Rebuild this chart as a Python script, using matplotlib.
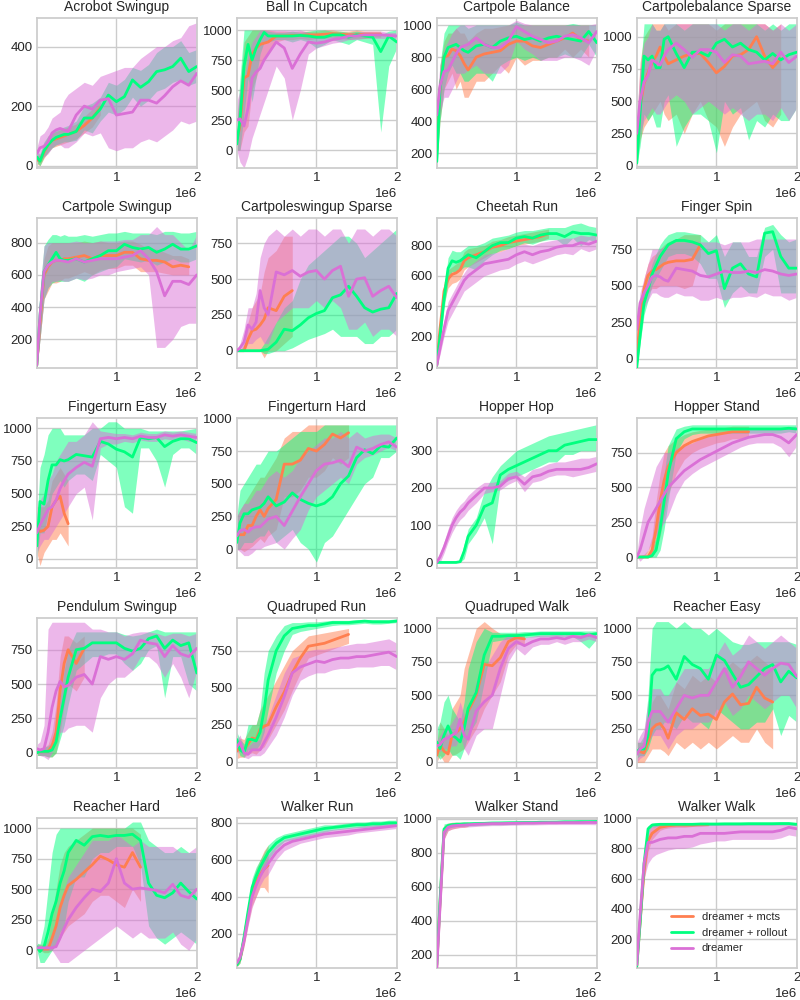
import matplotlib
matplotlib.use("Agg")
import matplotlib.pyplot as plt
from matplotlib.ticker import MultipleLocator
import numpy as np

# ---------------- data (environment steps in millions) ----------------
STEPS = [0.01, 0.05, 0.1, 0.15, 0.2, 0.25, 0.3, 0.35, 0.4, 0.5, 0.6, 0.7, 0.8,
         0.9, 1.0, 1.1, 1.2, 1.3, 1.4, 1.5, 1.6, 1.7, 1.8, 1.9, 2.0]

TITLES = ["Acrobot Swingup", "Ball In Cupcatch", "Cartpole Balance", "Cartpolebalance Sparse",
          "Cartpole Swingup", "Cartpoleswingup Sparse", "Cheetah Run", "Finger Spin",
          "Fingerturn Easy", "Fingerturn Hard", "Hopper Hop", "Hopper Stand",
          "Pendulum Swingup", "Quadruped Run", "Quadruped Walk", "Reacher Easy",
          "Reacher Hard", "Walker Run", "Walker Stand", "Walker Walk"]

LABELS = ["dreamer + mcts", "dreamer + rollout", "dreamer"]

# Acrobot Swingup
ACRO_M = [20, 15, 45, 70, 85, 90, 95, 100, 105, 115, 135, 160, 195]
ACRO_M_LO = [5, 0, 25, 45, 60, 65, 70, 75, 80, 90, 110, 130, 170]
ACRO_M_HI = [35, 35, 70, 100, 110, 115, 120, 125, 130, 140, 165, 190, 215]
ACRO_R = [30, 15, 50, 70, 85, 95, 100, 105, 105, 115, 160, 160, 190, 237, 215, 232, 288, 263, 282, 316, 322, 333, 361, 316, 333]
ACRO_R_LO = [10, 0, 30, 45, 60, 70, 75, 80, 80, 85, 120, 110, 150, 180, 170, 190, 230, 200, 220, 250, 260, 280, 290, 270, 280]
ACRO_R_HI = [45, 40, 80, 100, 110, 120, 125, 130, 135, 150, 200, 210, 230, 280, 270, 290, 330, 320, 340, 380, 400, 400, 420, 380, 390]
ACRO_D = [40, 60, 65, 80, 110, 120, 125, 120, 115, 170, 200, 190, 220, 225, 170, 175, 180, 220, 220, 210, 235, 265, 285, 270, 310]
ACRO_D_LO = [10, 20, 30, 40, 60, 70, 70, 60, 60, 80, 110, 100, 110, 60, 50, 60, 60, 80, 90, 80, 100, 120, 150, 140, 150]
ACRO_D_HI = [60, 100, 110, 130, 160, 170, 180, 220, 240, 260, 280, 270, 300, 310, 320, 330, 330, 360, 380, 400, 400, 420, 430, 470, 480]

# Ball In Cupcatch
BALL_M = [80, 200, 600, 620, 800, 850, 880, 890, 900, 950, 950, 955, 955, 960, 960, 965, 970, 965, 960, 960, 965, 965, 965]
BALL_M_LO = [0, 0, 150, 200, 500, 600, 700, 750, 800, 900, 920, 920, 930, 920, 930, 930, 940, 930, 920, 930, 930, 940, 940]
BALL_M_HI = [250, 500, 900, 950, 1000, 1000, 1000, 1000, 1000, 990, 990, 985, 990, 990, 990, 1000, 1000, 990, 990, 1000, 990, 990, 990]
BALL_R = [50, 250, 700, 880, 750, 850, 920, 980, 950, 950, 950, 950, 955, 950, 940, 940, 960, 960, 940, 960, 950, 940, 820, 950, 900]
BALL_R_LO = [0, 0, 300, 600, 400, 600, 800, 900, 900, 920, 920, 900, 920, 900, 850, 880, 920, 900, 880, 920, 900, 880, 150, 700, 850]
BALL_R_HI = [200, 600, 1000, 1000, 1000, 1000, 1000, 1000, 990, 980, 980, 990, 980, 990, 1000, 1000, 990, 990, 980, 990, 980, 980, 960, 990, 1000]
BALL_D = [250, 260, 200, 350, 600, 650, 680, 750, 800, 900, 850, 680, 800, 900, 890, 900, 920, 930, 950, 950, 960, 960, 960, 955, 950]
BALL_D_LO = [0, -100, -150, -50, 100, 200, 300, 400, 500, 700, 600, 250, 500, 800, 850, 870, 890, 900, 920, 920, 930, 930, 930, 930, 920]
BALL_D_HI = [400, 500, 600, 800, 900, 950, 1000, 1000, 1000, 1000, 1000, 1000, 1000, 980, 950, 940, 950, 960, 980, 980, 990, 990, 990, 980, 980]

# Cartpole Balance
CPB_M = [220, 600, 800, 810, 850, 840, 810, 760, 720, 800, 820, 830, 840, 880, 900, 900, 870, 860, 880, 900, 920, 950, 910, 900]
CPB_M_LO = [150, 400, 600, 650, 700, 600, 650, 550, 550, 650, 650, 700, 750, 700, 800, 750, 780, 780, 800, 800, 850, 800, 850, 800]
CPB_M_HI = [300, 750, 900, 950, 950, 980, 950, 950, 900, 950, 980, 980, 990, 1000, 1000, 1000, 1000, 1000, 1000, 1000, 1000, 1000, 1000, 1000]
CPB_R = [150, 600, 800, 860, 870, 880, 860, 840, 830, 870, 880, 860, 900, 920, 930, 910, 920, 900, 920, 930, 920, 910, 900, 960, 890]
CPB_R_LO = [100, 400, 600, 700, 750, 700, 700, 650, 650, 700, 700, 650, 750, 780, 800, 780, 800, 780, 800, 800, 820, 800, 800, 880, 800]
CPB_R_HI = [250, 750, 950, 1000, 1000, 1000, 1000, 1000, 980, 1000, 1000, 1000, 1000, 1000, 1020, 1000, 1000, 1000, 1000, 1000, 1000, 1010, 1000, 1000, 1000]
CPB_D = [440, 620, 710, 720, 770, 820, 860, 870, 880, 920, 880, 860, 860, 900, 990, 960, 930, 910, 890, 900, 930, 940, 920, 890, 960]
CPB_D_LO = [350, 450, 550, 550, 600, 650, 700, 700, 720, 750, 700, 700, 700, 750, 900, 850, 820, 780, 780, 780, 800, 800, 780, 750, 850]
CPB_D_HI = [550, 750, 850, 900, 950, 980, 1000, 1000, 1000, 1000, 1000, 1000, 1000, 1000, 1030, 1010, 1000, 1000, 1000, 1000, 1000, 1000, 1000, 1000, 1010]

# Cartpolebalance Sparse
CBS_M = [150, 450, 640, 720, 800, 850, 920, 850, 790, 820, 850, 870, 870, 800, 720, 770, 850, 860, 900, 1000, 850, 760, 830]
CBS_M_LO = [50, 200, 300, 350, 400, 450, 500, 400, 350, 400, 250, 400, 500, 350, 300, 150, 300, 400, 450, 500, 350, 300, 400]
CBS_M_HI = [300, 800, 1000, 1050, 1100, 1100, 1100, 1100, 1050, 1100, 1100, 1100, 1100, 1100, 1050, 1100, 1100, 1100, 1100, 1100, 1100, 1050, 1100]
CBS_R = [20, 400, 850, 820, 850, 760, 760, 980, 1000, 870, 760, 880, 880, 850, 950, 980, 920, 950, 900, 880, 820, 870, 820, 860, 880]
CBS_R_LO = [0, 150, 400, 350, 400, 300, 300, 500, 550, 150, 300, 400, 400, 350, 100, 500, 400, 450, 200, 350, 300, 400, 350, 350, 450]
CBS_R_HI = [50, 700, 1100, 1100, 1100, 1050, 1050, 1100, 1100, 1100, 1050, 1100, 1100, 1100, 1100, 1100, 1100, 1100, 1100, 1100, 1050, 1100, 1050, 1100, 1100]
CBS_D = [250, 500, 650, 700, 820, 800, 780, 850, 900, 950, 900, 840, 900, 900, 880, 800, 860, 850, 790, 800, 810, 790, 880, 800, 850]
CBS_D_LO = [100, 250, 350, 400, 450, 400, 400, 450, 500, 550, 500, 400, 450, 500, 450, 400, 450, 400, 350, 400, 400, 350, 450, 350, 450]
CBS_D_HI = [400, 750, 950, 1000, 1100, 1050, 1050, 1100, 1100, 1100, 1100, 1100, 1100, 1100, 1100, 1050, 1100, 1100, 1050, 1100, 1100, 1050, 1100, 1050, 1100]

# Cartpole Swingup
CPS_M = [40, 300, 600, 650, 680, 690, 690, 700, 700, 710, 720, 700, 720, 720, 720, 740, 740, 700, 690, 690, 680, 650, 660, 650]
CPS_M_LO = [20, 200, 450, 500, 550, 550, 560, 580, 580, 600, 620, 600, 630, 640, 640, 660, 660, 620, 620, 620, 610, 600, 600, 600]
CPS_M_HI = [60, 400, 700, 780, 800, 800, 800, 800, 800, 800, 810, 800, 810, 800, 800, 810, 810, 790, 760, 760, 740, 720, 720, 700]
CPS_R = [40, 350, 620, 660, 700, 740, 700, 690, 690, 700, 680, 700, 720, 750, 750, 790, 770, 760, 770, 740, 760, 790, 760, 760, 780]
CPS_R_LO = [20, 200, 450, 520, 550, 560, 560, 560, 560, 580, 560, 600, 620, 640, 650, 700, 690, 680, 690, 660, 680, 700, 680, 680, 700]
CPS_R_HI = [70, 500, 780, 820, 850, 850, 840, 850, 840, 840, 850, 840, 850, 860, 860, 870, 860, 860, 860, 850, 870, 870, 860, 860, 870]
CPS_D = [40, 350, 620, 660, 680, 690, 690, 685, 680, 700, 680, 690, 700, 700, 700, 710, 720, 750, 700, 620, 470, 560, 560, 540, 600]
CPS_D_LO = [20, 200, 450, 520, 560, 560, 570, 560, 560, 580, 570, 580, 600, 600, 620, 630, 640, 650, 600, 150, 150, 200, 280, 300, 300]
CPS_D_HI = [60, 500, 780, 800, 800, 800, 800, 800, 800, 810, 800, 800, 810, 810, 810, 820, 820, 850, 850, 900, 850, 850, 800, 750, 850]

# Cartpoleswingup Sparse
CSS_M = [0, 0, 0, 80, 140, 150, 180, 220, 300, 280, 380, 420]
CSS_M_LO = [0, 0, 0, 0, 0, 0, 0, -50, 0, 0, 50, 100]
CSS_M_HI = [0, 0, 50, 200, 300, 350, 400, 550, 650, 700, 800, 800]
CSS_R = [0, 0, 0, 0, 0, 0, 0, 5, 10, 60, 150, 140, 180, 230, 260, 280, 370, 390, 450, 380, 300, 270, 290, 300, 400]
CSS_R_LO = [0, 0, 0, 0, 0, 0, 0, -20, -20, 0, 0, 20, 50, 80, 100, 120, 150, 100, 100, 100, 50, 50, 100, 100, 150]
CSS_R_HI = [0, 0, 0, 0, 0, 0, 10, 50, 100, 200, 300, 350, 500, 600, 650, 700, 750, 800, 800, 750, 650, 700, 750, 800, 850]
CSS_D = [0, 20, 60, 180, 150, 200, 420, 300, 250, 550, 530, 560, 520, 550, 560, 500, 560, 590, 380, 500, 510, 380, 420, 450, 370]
CSS_D_LO = [0, 0, 0, 50, 50, 80, 100, 50, 50, 200, 250, 300, 300, 300, 350, 300, 350, 300, 150, 150, 200, 100, 150, 150, 100]
CSS_D_HI = [0, 50, 150, 300, 300, 400, 650, 750, 800, 850, 800, 850, 800, 850, 850, 800, 850, 850, 750, 850, 850, 800, 850, 850, 800]

# Cheetah Run
CHR_M = [10, 250, 500, 580, 610, 620, 640, 700, 720, 740, 760, 790, 800, 820, 830, 840, 850, 860, 880]
CHR_M_LO = [0, 180, 420, 520, 550, 560, 580, 640, 660, 690, 720, 750, 760, 780, 800, 810, 820, 830, 850]
CHR_M_HI = [20, 320, 560, 640, 660, 680, 700, 760, 780, 790, 800, 830, 840, 860, 870, 880, 890, 900, 910]
CHR_R = [10, 200, 450, 650, 700, 690, 700, 720, 740, 720, 760, 800, 820, 820, 850, 860, 850, 870, 880, 880, 860, 890, 880, 880, 870]
CHR_R_LO = [0, 150, 380, 560, 630, 620, 640, 660, 660, 640, 700, 740, 770, 780, 800, 820, 810, 830, 840, 840, 800, 850, 800, 840, 820]
CHR_R_HI = [20, 260, 520, 720, 770, 760, 760, 780, 800, 800, 820, 850, 860, 870, 890, 900, 900, 910, 920, 920, 920, 940, 950, 930, 920]
CHR_D = [10, 120, 250, 370, 420, 470, 520, 570, 600, 640, 680, 690, 700, 710, 740, 760, 740, 760, 770, 790, 800, 800, 820, 810, 830]
CHR_D_LO = [0, 80, 200, 300, 350, 400, 450, 500, 520, 560, 600, 620, 640, 650, 680, 700, 680, 700, 720, 740, 750, 740, 780, 760, 780]
CHR_D_HI = [20, 160, 300, 430, 480, 530, 580, 620, 660, 700, 740, 750, 760, 780, 800, 810, 800, 820, 830, 840, 850, 850, 870, 860, 880]

# Finger Spin
FSP_M = [-20, 300, 480, 570, 600, 610, 630, 650, 660, 670, 670, 680, 780]
FSP_M_LO = [-50, 250, 400, 450, 480, 480, 500, 500, 500, 500, 480, 500, 700]
FSP_M_HI = [0, 350, 550, 650, 700, 720, 750, 780, 800, 820, 850, 850, 850]
FSP_R = [-60, 150, 380, 470, 580, 640, 700, 740, 780, 810, 810, 800, 780, 720, 740, 480, 620, 650, 580, 560, 860, 870, 700, 620, 620]
FSP_R_LO = [-60, 100, 300, 400, 500, 550, 600, 650, 700, 720, 720, 700, 650, 550, 550, 350, 450, 500, 450, 450, 700, 750, 450, 450, 450]
FSP_R_HI = [-50, 250, 450, 550, 650, 720, 780, 820, 850, 870, 870, 860, 850, 800, 850, 700, 800, 800, 700, 700, 900, 920, 850, 800, 820]
FSP_D = [200, 380, 450, 500, 560, 570, 560, 540, 530, 620, 610, 600, 570, 560, 580, 600, 590, 590, 600, 590, 610, 600, 580, 570, 580]
FSP_D_LO = [180, 300, 350, 400, 450, 450, 430, 420, 420, 450, 430, 430, 400, 400, 420, 400, 420, 420, 430, 420, 450, 430, 430, 400, 420]
FSP_D_HI = [220, 450, 550, 650, 750, 750, 750, 770, 780, 800, 800, 810, 800, 800, 800, 780, 800, 800, 800, 820, 820, 820, 820, 820, 820]

# Fingerturn Easy
FTE_M = [250, 210, 220, 250, 400, 450, 480, 350, 270]
FTE_M_LO = [50, -50, 50, 100, 150, 150, 200, 150, 100]
FTE_M_HI = [400, 400, 400, 450, 600, 650, 700, 650, 600]
FTE_R = [100, 440, 420, 600, 720, 720, 760, 750, 760, 800, 790, 780, 900, 880, 840, 820, 780, 930, 920, 930, 860, 900, 920, 920, 890]
FTE_R_LO = [0, 200, 200, 350, 500, 550, 600, 550, 600, 650, 650, 600, 800, 750, 700, 400, 350, 850, 850, 750, 550, 800, 850, 850, 800]
FTE_R_HI = [250, 700, 800, 950, 1000, 1000, 1000, 950, 950, 950, 950, 1000, 1000, 1050, 1050, 1000, 1000, 1000, 980, 980, 980, 980, 980, 990, 1000]
FTE_D = [200, 260, 320, 380, 400, 450, 540, 600, 650, 700, 740, 710, 920, 930, 920, 930, 920, 940, 930, 930, 950, 940, 950, 940, 930]
FTE_D_LO = [50, 100, 150, 150, 200, 250, 300, 350, 400, 500, 550, 300, 850, 880, 880, 900, 890, 910, 900, 900, 920, 910, 920, 900, 900]
FTE_D_HI = [350, 450, 500, 600, 650, 750, 800, 850, 900, 900, 950, 1050, 980, 970, 960, 960, 950, 970, 960, 960, 980, 970, 980, 970, 960]

# Fingerturn Hard
FTH_M = [100, 110, 110, 180, 180, 250, 300, 250, 310, 380, 650, 650, 680, 770, 750, 800, 880, 850, 890]
FTH_M_LO = [0, 0, -20, 0, 20, 50, 80, 50, 100, 150, 400, 400, 450, 550, 550, 600, 700, 650, 700]
FTH_M_HI = [250, 300, 350, 400, 450, 500, 550, 550, 600, 700, 850, 900, 900, 950, 950, 950, 950, 950, 950]
FTH_R = [50, 200, 270, 270, 300, 310, 320, 350, 400, 330, 360, 430, 380, 350, 330, 350, 400, 500, 560, 700, 760, 730, 790, 780, 850]
FTH_R_LO = [0, 0, 50, 50, 50, 80, 100, 100, 150, 50, 100, 150, 50, 0, -100, 50, 100, 200, 300, 400, 500, 550, 700, 700, 750]
FTH_R_HI = [250, 450, 500, 550, 600, 650, 650, 700, 750, 750, 800, 850, 900, 900, 900, 950, 950, 950, 950, 950, 950, 950, 950, 950, 950]
FTH_D = [100, 140, 150, 130, 160, 170, 170, 200, 230, 250, 180, 290, 400, 500, 600, 650, 660, 680, 630, 780, 750, 770, 800, 820, 780]
FTH_D_LO = [0, -20, -50, -50, -30, 0, 0, 20, 30, 50, 0, 80, 150, 300, 400, 450, 500, 550, 500, 650, 700, 720, 750, 780, 750]
FTH_D_HI = [250, 300, 350, 350, 400, 450, 450, 500, 550, 600, 550, 600, 700, 750, 800, 850, 850, 900, 850, 900, 850, 870, 880, 880, 850]

# Hopper Hop (no mcts run)
HOP_R = [0, 0, 0, 0, 0, 0, 2, 30, 70, 100, 150, 160, 235, 250, 260, 270, 280, 290, 300, 300, 315, 320, 325, 330, 330]
HOP_R_LO = [0, 0, 0, 0, 0, 0, 0, 10, 50, 80, 120, 50, 210, 220, 230, 240, 250, 260, 270, 270, 290, 290, 300, 300, 300]
HOP_R_HI = [0, 0, 0, 0, 0, 0, 5, 50, 90, 120, 190, 230, 260, 280, 300, 310, 320, 330, 340, 345, 350, 355, 360, 365, 370]
HOP_D = [0, 15, 40, 70, 100, 120, 135, 145, 160, 180, 200, 200, 205, 225, 230, 210, 230, 235, 245, 250, 250, 250, 250, 255, 265]
HOP_D_LO = [0, 0, 25, 55, 80, 100, 115, 125, 140, 160, 185, 190, 195, 210, 220, 190, 215, 220, 230, 235, 235, 230, 235, 240, 245]
HOP_D_HI = [5, 25, 55, 90, 120, 140, 155, 165, 180, 200, 215, 215, 220, 240, 245, 230, 250, 255, 265, 270, 270, 275, 280, 280, 285]

# Hopper Stand
HST_M = [0, 0, 0, 0, 50, 200, 400, 550, 650, 750, 800, 830, 850, 870, 880, 890, 900, 900, 900]
HST_M_LO = [0, 0, 0, 0, 0, 50, 150, 300, 450, 600, 700, 750, 780, 800, 820, 830, 850, 850, 860]
HST_M_HI = [10, 10, 20, 50, 150, 400, 600, 750, 800, 850, 880, 900, 910, 920, 930, 930, 940, 940, 940]
HST_R = [0, 0, 0, 0, 10, 50, 200, 400, 600, 850, 900, 920, 920, 920, 920, 920, 920, 920, 920, 920, 920, 920, 920, 925, 920]
HST_R_LO = [0, 0, 0, 0, 0, 0, 50, 200, 400, 750, 850, 880, 890, 890, 890, 890, 890, 890, 890, 890, 890, 890, 890, 900, 890]
HST_R_HI = [10, 10, 10, 20, 50, 150, 400, 600, 800, 920, 940, 950, 950, 950, 950, 950, 950, 950, 950, 950, 950, 950, 950, 950, 950]
HST_D = [0, 50, 150, 250, 300, 350, 400, 450, 500, 560, 620, 660, 700, 730, 760, 790, 820, 840, 860, 870, 880, 880, 860, 820, 880]
HST_D_LO = [0, -30, 0, 50, 100, 150, 200, 250, 300, 450, 550, 600, 640, 670, 700, 730, 760, 790, 810, 820, 820, 820, 790, 720, 800]
HST_D_HI = [20, 200, 350, 450, 550, 650, 700, 750, 750, 780, 800, 820, 850, 870, 880, 890, 900, 910, 920, 930, 930, 930, 930, 930, 940]

# Pendulum Swingup
PEN_M = [0, 10, 10, 10, 50, 150, 450, 650, 750, 650, 760]
PEN_M_LO = [-20, -20, -20, -30, -30, 0, 150, 350, 500, 450, 550]
PEN_M_HI = [20, 30, 40, 60, 150, 350, 700, 850, 850, 800, 850]
PEN_R = [0, 10, 10, 10, 20, 80, 250, 400, 550, 750, 760, 800, 800, 800, 800, 760, 740, 760, 830, 850, 760, 820, 780, 800, 580]
PEN_R_LO = [-20, -20, -20, -30, -30, 0, 100, 200, 350, 600, 650, 700, 700, 720, 720, 650, 600, 650, 750, 780, 400, 700, 700, 500, 450]
PEN_R_HI = [20, 30, 40, 50, 80, 200, 400, 600, 750, 880, 880, 880, 880, 880, 880, 860, 850, 860, 880, 900, 880, 880, 880, 880, 880]
PEN_D = [30, 20, 30, 150, 330, 450, 520, 480, 490, 550, 570, 500, 700, 680, 700, 680, 720, 820, 800, 790, 700, 780, 720, 700, 760]
PEN_D_LO = [0, -20, -30, -50, 0, 100, 150, 150, 180, 200, 200, 150, 400, 500, 550, 550, 600, 700, 700, 650, 550, 650, 550, 400, 600]
PEN_D_HI = [60, 80, 200, 900, 950, 950, 950, 950, 950, 950, 950, 900, 900, 880, 880, 850, 870, 880, 880, 870, 850, 870, 870, 850, 870]

# Quadruped Run
QRN_M = [70, 100, 80, 120, 160, 150, 220, 240, 250, 370, 470, 600, 700, 780, 790, 800, 820, 840, 860]
QRN_M_LO = [20, 30, 30, 50, 60, 50, 80, 100, 150, 250, 350, 480, 600, 700, 720, 740, 760, 780, 800]
QRN_M_HI = [130, 160, 150, 200, 250, 250, 350, 400, 450, 550, 650, 750, 800, 850, 860, 870, 880, 890, 900]
QRN_R = [150, 80, 60, 150, 150, 140, 200, 350, 550, 750, 850, 900, 910, 920, 920, 930, 940, 940, 940, 945, 950, 945, 945, 945, 950]
QRN_R_LO = [100, 40, 30, 80, 80, 80, 120, 200, 350, 600, 750, 860, 880, 890, 900, 910, 920, 925, 925, 930, 935, 930, 930, 935, 940]
QRN_R_HI = [200, 150, 120, 250, 250, 250, 350, 600, 750, 850, 920, 940, 940, 945, 945, 950, 955, 955, 955, 960, 960, 960, 960, 960, 965]
QRN_D = [100, 130, 60, 50, 80, 80, 80, 130, 180, 300, 440, 600, 640, 660, 680, 670, 690, 700, 700, 710, 710, 720, 730, 740, 710]
QRN_D_LO = [50, 80, 30, 20, 40, 40, 40, 60, 100, 180, 300, 450, 550, 580, 600, 600, 620, 630, 630, 640, 640, 640, 650, 650, 620]
QRN_D_HI = [150, 180, 100, 100, 130, 140, 150, 250, 300, 450, 600, 700, 720, 750, 760, 760, 770, 780, 790, 800, 800, 810, 820, 830, 800]

# Quadruped Walk
QWK_M = [50, 130, 80, 60, 200, 220, 250, 300, 380, 500, 730, 720, 780, 900, 930, 920]
QWK_M_LO = [0, 50, 0, 0, 50, 60, 80, 100, 150, 250, 400, 500, 600, 800, 880, 880]
QWK_M_HI = [150, 300, 250, 200, 400, 450, 500, 700, 800, 1000, 1050, 1000, 960, 960, 960, 950]
QWK_R = [150, 100, 200, 270, 200, 180, 150, 250, 400, 520, 800, 940, 940, 945, 945, 950, 955, 960, 960, 960, 960, 960, 960, 950, 960]
QWK_R_LO = [50, 20, 50, 100, 50, 50, 20, 100, 200, 300, 600, 900, 910, 920, 920, 930, 935, 940, 940, 940, 940, 940, 900, 850, 920]
QWK_R_HI = [250, 300, 450, 500, 400, 350, 300, 450, 700, 900, 1000, 970, 970, 970, 970, 975, 975, 980, 980, 980, 980, 980, 980, 980, 980]
QWK_D = [120, 130, 170, 180, 200, 220, 320, 200, 170, 380, 450, 500, 700, 850, 900, 870, 900, 920, 920, 930, 920, 940, 930, 950, 930]
QWK_D_LO = [80, 80, 100, 100, 120, 120, 200, 100, 50, 200, 250, 250, 500, 750, 850, 800, 860, 880, 880, 900, 880, 900, 900, 920, 900]
QWK_D_HI = [160, 200, 250, 250, 300, 350, 450, 350, 350, 600, 700, 800, 900, 950, 950, 930, 940, 950, 950, 960, 950, 970, 960, 970, 960]

# Reacher Easy
REA_M = [80, 80, 70, 150, 250, 280, 290, 250, 180, 370, 320, 400, 350, 360, 320, 450, 510, 430, 440, 560, 480, 450]
REA_M_LO = [0, 0, 0, 50, 100, 100, 100, 80, 50, 150, 100, 150, 100, 150, 100, 150, 200, 150, 150, 250, 150, 100]
REA_M_HI = [150, 150, 150, 300, 450, 500, 500, 450, 400, 600, 550, 650, 600, 650, 600, 700, 750, 700, 750, 800, 750, 700]
REA_R = [80, 100, 100, 200, 650, 690, 690, 700, 720, 620, 790, 730, 700, 620, 800, 760, 660, 560, 580, 640, 700, 730, 600, 680, 630]
REA_R_LO = [30, 50, 50, 100, 200, 250, 250, 300, 300, 250, 350, 300, 300, 250, 400, 350, 300, 250, 250, 300, 300, 400, 200, 350, 300]
REA_R_HI = [150, 150, 200, 500, 1000, 1050, 1050, 1050, 1050, 1000, 1050, 1000, 1000, 950, 1000, 950, 900, 880, 880, 900, 900, 900, 900, 900, 880]
REA_D = [60, 100, 120, 300, 380, 380, 380, 340, 300, 400, 500, 480, 500, 500, 600, 700, 560, 640, 750, 700, 650, 700, 740, 730, 640]
REA_D_LO = [0, 30, 50, 150, 200, 200, 200, 150, 100, 200, 250, 250, 300, 300, 350, 450, 350, 400, 500, 450, 400, 450, 500, 500, 400]
REA_D_HI = [150, 200, 250, 450, 550, 550, 550, 500, 500, 600, 700, 700, 700, 700, 800, 900, 800, 850, 950, 900, 850, 900, 950, 900, 850]

# Reacher Hard
RHD_M = [10, 10, 10, 10, 100, 200, 350, 450, 530, 580, 640, 700, 770, 740, 700, 680, 800, 680]
RHD_M_LO = [0, 0, -20, -20, 0, 50, 100, 150, 200, 250, 300, 400, 450, 450, 400, 350, 500, 400]
RHD_M_HI = [50, 50, 50, 100, 300, 500, 700, 800, 850, 900, 950, 1000, 1000, 1000, 1000, 1000, 1000, 950]
RHD_R = [30, -10, 30, 150, 300, 400, 550, 650, 800, 900, 860, 930, 940, 930, 940, 940, 950, 900, 550, 450, 430, 470, 550, 480, 420]
RHD_R_LO = [0, -100, -100, -50, 0, 50, 150, 200, 400, 600, 600, 750, 800, 800, 850, 850, 850, 700, 200, 100, 50, 100, 150, 100, 50]
RHD_R_HI = [60, 50, 200, 500, 800, 950, 1000, 1000, 1000, 1000, 1000, 1000, 1000, 1000, 1000, 1000, 1050, 1050, 900, 850, 800, 800, 850, 800, 800]
RHD_D = [20, 20, 20, 20, 20, 30, 100, 180, 250, 350, 430, 500, 480, 550, 750, 550, 500, 510, 500, 490, 470, 540, 450, 430, 500]
RHD_D_LO = [0, 0, 0, 0, 0, -50, -100, -100, -100, -50, 0, 50, 100, 150, 200, 150, 100, 150, 100, 100, 100, 150, 50, 0, 100]
RHD_D_HI = [40, 40, 40, 50, 100, 200, 400, 500, 600, 700, 800, 900, 900, 900, 950, 900, 850, 900, 850, 850, 850, 850, 800, 800, 850]

# Walker Run
WRN_M = [30, 60, 170, 300, 420, 480, 520, 550, 570]
WRN_M_LO = [20, 40, 130, 250, 350, 400, 450, 450, 420]
WRN_M_HI = [40, 80, 210, 350, 480, 550, 600, 650, 680]
WRN_R = [30, 60, 180, 320, 450, 510, 560, 600, 640, 690, 720, 730, 740, 750, 760, 770, 775, 780, 785, 790, 790, 795, 795, 800, 800]
WRN_R_LO = [20, 40, 150, 280, 400, 470, 520, 560, 600, 660, 700, 710, 720, 730, 740, 750, 760, 765, 770, 775, 775, 780, 780, 785, 785]
WRN_R_HI = [40, 80, 210, 360, 500, 560, 600, 640, 680, 720, 740, 750, 760, 770, 780, 790, 790, 795, 800, 805, 805, 810, 810, 815, 815]
WRN_D = [40, 70, 160, 280, 400, 460, 510, 550, 580, 640, 680, 700, 710, 720, 730, 740, 745, 750, 755, 760, 765, 770, 775, 780, 785]
WRN_D_LO = [30, 50, 130, 240, 340, 400, 460, 500, 520, 600, 650, 670, 690, 700, 710, 720, 725, 730, 735, 745, 750, 755, 760, 765, 770]
WRN_D_HI = [50, 90, 190, 320, 450, 520, 560, 600, 630, 680, 710, 720, 730, 740, 750, 760, 765, 770, 775, 780, 785, 790, 795, 800, 800]

# Walker Stand
WST_M = [130, 500, 930, 955, 960, 965, 965, 965, 968]
WST_M_LO = [120, 450, 880, 930, 940, 945, 950, 950, 955]
WST_M_HI = [140, 550, 960, 975, 980, 980, 980, 980, 980]
WST_R = [140, 520, 940, 960, 965, 968, 968, 970, 970, 972, 973, 975, 975, 976, 977, 978, 978, 980, 980, 980, 982, 982, 983, 983, 984]
WST_R_LO = [130, 470, 900, 945, 950, 955, 955, 958, 958, 960, 962, 965, 965, 966, 968, 970, 970, 972, 972, 972, 975, 975, 976, 976, 977]
WST_R_HI = [150, 570, 970, 975, 978, 980, 980, 982, 982, 984, 985, 986, 987, 988, 988, 989, 990, 990, 990, 991, 992, 992, 993, 993, 993]
WST_D = [120, 480, 920, 950, 958, 960, 962, 963, 965, 968, 970, 972, 972, 973, 974, 975, 975, 976, 977, 977, 978, 978, 978, 979, 978]
WST_D_LO = [110, 430, 880, 930, 940, 945, 948, 950, 952, 955, 958, 960, 960, 962, 963, 964, 964, 965, 966, 966, 966, 966, 966, 966, 965]
WST_D_HI = [130, 530, 950, 968, 972, 975, 975, 977, 978, 980, 982, 983, 984, 985, 985, 986, 986, 987, 988, 988, 988, 989, 990, 990, 990]

# Walker Walk
WWK_M = [20, 300, 650, 850, 900, 920, 940, 945, 950, 955, 955, 955, 960, 960]
WWK_M_LO = [10, 250, 580, 780, 860, 890, 920, 930, 935, 940, 940, 945, 945, 950]
WWK_M_HI = [30, 350, 720, 900, 940, 955, 960, 965, 965, 968, 968, 968, 970, 970]
WWK_R = [20, 300, 700, 930, 955, 958, 960, 960, 960, 960, 960, 960, 962, 962, 962, 963, 963, 963, 964, 964, 964, 964, 965, 965, 960]
WWK_R_LO = [10, 250, 630, 900, 940, 945, 948, 950, 950, 950, 950, 950, 952, 952, 952, 953, 953, 953, 954, 954, 954, 954, 955, 955, 950]
WWK_R_HI = [30, 350, 770, 950, 968, 970, 970, 970, 970, 970, 970, 970, 972, 972, 972, 973, 973, 973, 974, 974, 974, 974, 975, 975, 972]
WWK_D = [30, 350, 700, 840, 840, 850, 860, 865, 870, 870, 880, 880, 900, 900, 900, 900, 905, 910, 910, 910, 910, 910, 920, 940, 930]
WWK_D_LO = [20, 280, 600, 700, 740, 760, 770, 780, 790, 800, 800, 810, 830, 840, 850, 850, 860, 860, 860, 860, 860, 860, 870, 890, 880]
WWK_D_HI = [40, 420, 800, 950, 960, 960, 960, 960, 960, 960, 960, 960, 960, 960, 960, 960, 960, 960, 960, 960, 960, 960, 960, 960, 960]

# ---------------- assemble panels ----------------
PANELS = [
    [(ACRO_M, ACRO_M_LO, ACRO_M_HI), (ACRO_R, ACRO_R_LO, ACRO_R_HI), (ACRO_D, ACRO_D_LO, ACRO_D_HI)],
    [(BALL_M, BALL_M_LO, BALL_M_HI), (BALL_R, BALL_R_LO, BALL_R_HI), (BALL_D, BALL_D_LO, BALL_D_HI)],
    [(CPB_M, CPB_M_LO, CPB_M_HI), (CPB_R, CPB_R_LO, CPB_R_HI), (CPB_D, CPB_D_LO, CPB_D_HI)],
    [(CBS_M, CBS_M_LO, CBS_M_HI), (CBS_R, CBS_R_LO, CBS_R_HI), (CBS_D, CBS_D_LO, CBS_D_HI)],
    [(CPS_M, CPS_M_LO, CPS_M_HI), (CPS_R, CPS_R_LO, CPS_R_HI), (CPS_D, CPS_D_LO, CPS_D_HI)],
    [(CSS_M, CSS_M_LO, CSS_M_HI), (CSS_R, CSS_R_LO, CSS_R_HI), (CSS_D, CSS_D_LO, CSS_D_HI)],
    [(CHR_M, CHR_M_LO, CHR_M_HI), (CHR_R, CHR_R_LO, CHR_R_HI), (CHR_D, CHR_D_LO, CHR_D_HI)],
    [(FSP_M, FSP_M_LO, FSP_M_HI), (FSP_R, FSP_R_LO, FSP_R_HI), (FSP_D, FSP_D_LO, FSP_D_HI)],
    [(FTE_M, FTE_M_LO, FTE_M_HI), (FTE_R, FTE_R_LO, FTE_R_HI), (FTE_D, FTE_D_LO, FTE_D_HI)],
    [(FTH_M, FTH_M_LO, FTH_M_HI), (FTH_R, FTH_R_LO, FTH_R_HI), (FTH_D, FTH_D_LO, FTH_D_HI)],
    [None, (HOP_R, HOP_R_LO, HOP_R_HI), (HOP_D, HOP_D_LO, HOP_D_HI)],
    [(HST_M, HST_M_LO, HST_M_HI), (HST_R, HST_R_LO, HST_R_HI), (HST_D, HST_D_LO, HST_D_HI)],
    [(PEN_M, PEN_M_LO, PEN_M_HI), (PEN_R, PEN_R_LO, PEN_R_HI), (PEN_D, PEN_D_LO, PEN_D_HI)],
    [(QRN_M, QRN_M_LO, QRN_M_HI), (QRN_R, QRN_R_LO, QRN_R_HI), (QRN_D, QRN_D_LO, QRN_D_HI)],
    [(QWK_M, QWK_M_LO, QWK_M_HI), (QWK_R, QWK_R_LO, QWK_R_HI), (QWK_D, QWK_D_LO, QWK_D_HI)],
    [(REA_M, REA_M_LO, REA_M_HI), (REA_R, REA_R_LO, REA_R_HI), (REA_D, REA_D_LO, REA_D_HI)],
    [(RHD_M, RHD_M_LO, RHD_M_HI), (RHD_R, RHD_R_LO, RHD_R_HI), (RHD_D, RHD_D_LO, RHD_D_HI)],
    [(WRN_M, WRN_M_LO, WRN_M_HI), (WRN_R, WRN_R_LO, WRN_R_HI), (WRN_D, WRN_D_LO, WRN_D_HI)],
    [(WST_M, WST_M_LO, WST_M_HI), (WST_R, WST_R_LO, WST_R_HI), (WST_D, WST_D_LO, WST_D_HI)],
    [(WWK_M, WWK_M_LO, WWK_M_HI), (WWK_R, WWK_R_LO, WWK_R_HI), (WWK_D, WWK_D_LO, WWK_D_HI)],
]

# axis styling per panel (tick spacing and visible y-range)
Y_STEP = [200, 250, 200, 250, 200, 250, 200, 250, 250, 250,
          100, 250, 250, 250, 250, 250, 250, 200, 200, 200]
Y_LIM = [(-8, 496), (-150, 1100), (109, 1044), (-18, 1145),
         (22, 953), (-121, 927), (-9, 983), (-65, 964),
         (-69, 1079), (-145, 1003), (-15, 388), None,
         (-111, 981), (-43, 971), (-45, 1077), (-42, 1077),
         (-145, 1083), (13, 827), (121, 1005), (8, 1002)]

COLORS = ["#ff7f50", "#00ff7f", "#da70d6"]

# ---------------- style ----------------
plt.style.use("seaborn-v0_8-whitegrid")
plt.rcParams["font.family"] = ["Liberation Sans", "DejaVu Sans"]
plt.rcParams["text.color"] = ".15"
plt.rcParams["xtick.color"] = ".15"
plt.rcParams["ytick.color"] = ".15"
plt.rcParams["axes.edgecolor"] = ".8"
plt.rcParams["axes.linewidth"] = 1.25
plt.rcParams["grid.color"] = ".8"

fig, axes = plt.subplots(5, 4, figsize=(8, 10), dpi=100)
fig.subplots_adjust(left=0.046, right=0.996, top=0.982, bottom=0.032,
                    wspace=0.25, hspace=0.333)

steps = np.array(STEPS) * 1e6
for i, (ax, title, panel) in enumerate(zip(axes.flat, TITLES, PANELS)):
    for k, series in enumerate(panel):
        if series is None:
            continue
        mean, lo, hi = series
        assert len(mean) == len(lo) == len(hi), (title, k, len(mean), len(lo), len(hi))
        x = steps[:len(mean)]
        ax.fill_between(x, lo, hi, color=COLORS[k], alpha=0.5, linewidth=0, zorder=1)
    for k, series in enumerate(panel):
        if series is None:
            ax.plot([], [], color=COLORS[k], lw=2, label=LABELS[k])
            continue
        mean = series[0]
        x = steps[:len(mean)]
        ax.plot(x, mean, color=COLORS[k], lw=2, zorder=3, label=LABELS[k])
    ax.set_title(title, fontsize=10, pad=5)
    ax.set_xlim(steps[0], 2e6)
    if Y_LIM[i] is not None:
        ax.set_ylim(*Y_LIM[i])
    ax.xaxis.set_major_locator(MultipleLocator(1e6))
    ax.yaxis.set_major_locator(MultipleLocator(Y_STEP[i]))
    ax.tick_params(labelsize=9.5, length=0, pad=3)
    ax.xaxis.get_offset_text().set_fontsize(9.5)
    ax.grid(True, color=".8", lw=1)

axes.flat[-1].legend(loc="lower right", fontsize=8, frameon=False,
                     bbox_to_anchor=(1.0, 0.03))

fig.savefig("out.png", dpi=100)
